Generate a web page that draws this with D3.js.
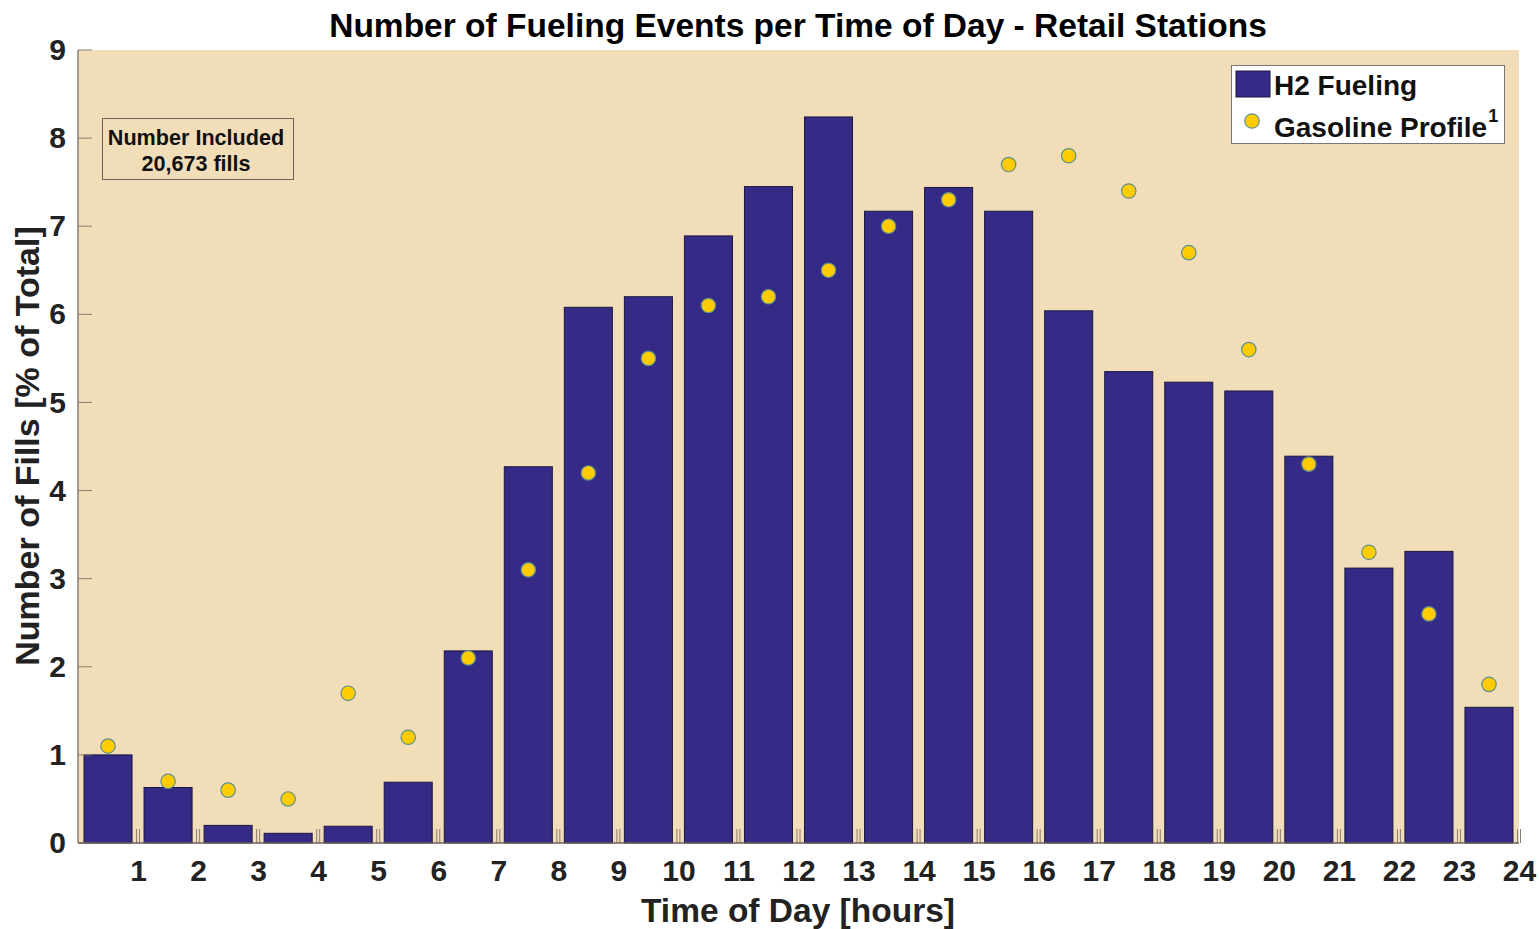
<!DOCTYPE html>
<html><head><meta charset="utf-8">
<script src="https://cdn.jsdelivr.net/npm/d3@7"></script>
<style>
html,body{margin:0;padding:0;background:#fff;}
svg{display:block;font-family:"Liberation Sans",Arial,sans-serif;font-weight:bold;}
</style></head>
<body>
<svg id="chart" width="1539" height="929"></svg>
<script>
const hours = d3.range(1, 25);
const xTicks = d3.range(1, 25);
const yTicks = d3.range(0, 10);
const h2Fueling = [1.0,0.63,0.2,0.11,0.19,0.69,2.18,4.27,6.08,6.2,6.89,7.45,8.24,7.17,7.44,7.17,6.04,5.35,5.23,5.13,4.39,3.12,3.31,1.54];
const gasolineProfile = [1.1,0.7,0.6,0.5,1.7,1.2,2.1,3.1,4.2,5.5,6.1,6.2,6.5,7.0,7.3,7.7,7.8,7.4,6.7,5.6,4.3,3.3,2.6,1.8];
const titleText = "Number of Fueling Events per Time of Day - Retail Stations";
const xLabel = "Time of Day [hours]";
const yLabel = "Number of Fills [% of Total]";

const svg = d3.select("#chart");
const L = 78, R = 1519, T = 50, B = 843;
const x = d3.scaleLinear().domain([0, 24]).range([L, R]);
const y = d3.scaleLinear().domain([0, 9]).range([B, T]);

// background
svg.append("rect").attr("x", L).attr("y", T).attr("width", R - L).attr("height", B - T).attr("fill", "#f2ddb9");

// bars
svg.append("g").selectAll("rect").data(h2Fueling).join("rect")
  .attr("x", (d, i) => x(i + 0.1))
  .attr("width", x(0.8) - x(0))
  .attr("y", d => y(d))
  .attr("height", d => y(0) - y(d))
  .attr("fill", "#352a86")
  .attr("stroke", "#1b1740")
  .attr("stroke-width", 1);

// x tick marks (double marks)
const tg = svg.append("g").attr("stroke", "#8a7e72").attr("stroke-width", 1);
xTicks.forEach(t => {
  [-1.5, 1.5].forEach(o => {
    tg.append("line").attr("x1", x(t) + o).attr("x2", x(t) + o).attr("y1", B).attr("y2", B - 14);
  });
});
// y tick marks
yTicks.forEach(t => {
  tg.append("line").attr("x1", L).attr("x2", L + 14).attr("y1", y(t)).attr("y2", y(t));
});

// axis lines
svg.append("line").attr("x1", L).attr("x2", L).attr("y1", T).attr("y2", B).attr("stroke", "#8a7e74").attr("stroke-width", 1.5);
svg.append("line").attr("x1", L).attr("x2", R).attr("y1", B).attr("y2", B).attr("stroke", "#6b625a").attr("stroke-width", 1.5);

// gasoline dots
svg.append("g").selectAll("circle").data(gasolineProfile).join("circle")
  .attr("cx", (d, i) => x(i + 0.5))
  .attr("cy", d => y(d))
  .attr("r", 7.2)
  .attr("fill", "#ffcc00")
  .attr("stroke", "#5f8f8f")
  .attr("stroke-width", 1.2);

// axes labels via d3 axes
const xAxis = svg.append("g").attr("transform", `translate(0,${B})`)
  .call(d3.axisBottom(x).tickValues(xTicks).tickSize(0).tickPadding(17).tickFormat(d3.format("d")));
xAxis.select(".domain").remove();
xAxis.selectAll("text").attr("font-size", 30).attr("font-family", "Liberation Sans, Arial, sans-serif").attr("font-weight", "bold").attr("fill", "#222").attr("dy", "0.71em");

const yAxis = svg.append("g").attr("transform", `translate(${L},0)`)
  .call(d3.axisLeft(y).tickValues(yTicks).tickSize(0).tickPadding(12).tickFormat(d3.format("d")));
yAxis.select(".domain").remove();
yAxis.selectAll("text").attr("font-size", 30).attr("font-family", "Liberation Sans, Arial, sans-serif").attr("font-weight", "bold").attr("fill", "#222");

// title
svg.append("text").attr("x", 798).attr("y", 37).attr("text-anchor", "middle")
  .attr("font-size", 33.5).attr("fill", "#000").text(titleText);
// x label
svg.append("text").attr("x", 798).attr("y", 922).attr("text-anchor", "middle")
  .attr("font-size", 33.5).attr("fill", "#222").text(xLabel);
// y label
svg.append("text").attr("transform", "translate(39,446) rotate(-90)").attr("text-anchor", "middle")
  .attr("font-size", 34).attr("fill", "#222").text(yLabel);

// annotation box
svg.append("rect").attr("x", 102.5).attr("y", 118.5).attr("width", 191).attr("height", 61)
  .attr("fill", "#f2ddb9").attr("stroke", "#6b625a").attr("stroke-width", 1);
svg.append("text").attr("x", 196).attr("y", 145).attr("text-anchor", "middle").attr("font-size", 21.6).attr("fill", "#111").text("Number Included");
svg.append("text").attr("x", 196).attr("y", 171).attr("text-anchor", "middle").attr("font-size", 21.6).attr("fill", "#111").text("20,673 fills");

// legend
svg.append("rect").attr("x", 1231.5).attr("y", 65.5).attr("width", 273).attr("height", 78)
  .attr("fill", "#fff").attr("stroke", "#777").attr("stroke-width", 1);
svg.append("rect").attr("x", 1236).attr("y", 71).attr("width", 34).attr("height", 26)
  .attr("fill", "#352a86").attr("stroke", "#1b1740").attr("stroke-width", 1);
svg.append("text").attr("x", 1274).attr("y", 95).attr("font-size", 28).attr("fill", "#111").text("H2 Fueling");
svg.append("circle").attr("cx", 1252).attr("cy", 121).attr("r", 7.2)
  .attr("fill", "#ffcc00").attr("stroke", "#5f8f8f").attr("stroke-width", 1.2);
const gl = svg.append("text").attr("x", 1274).attr("y", 137).attr("font-size", 28).attr("fill", "#111");
gl.append("tspan").text("Gasoline Profile");
gl.append("tspan").attr("font-size", 18).attr("dy", -15).attr("dx", 1).text("1");
</script>
</body></html>
